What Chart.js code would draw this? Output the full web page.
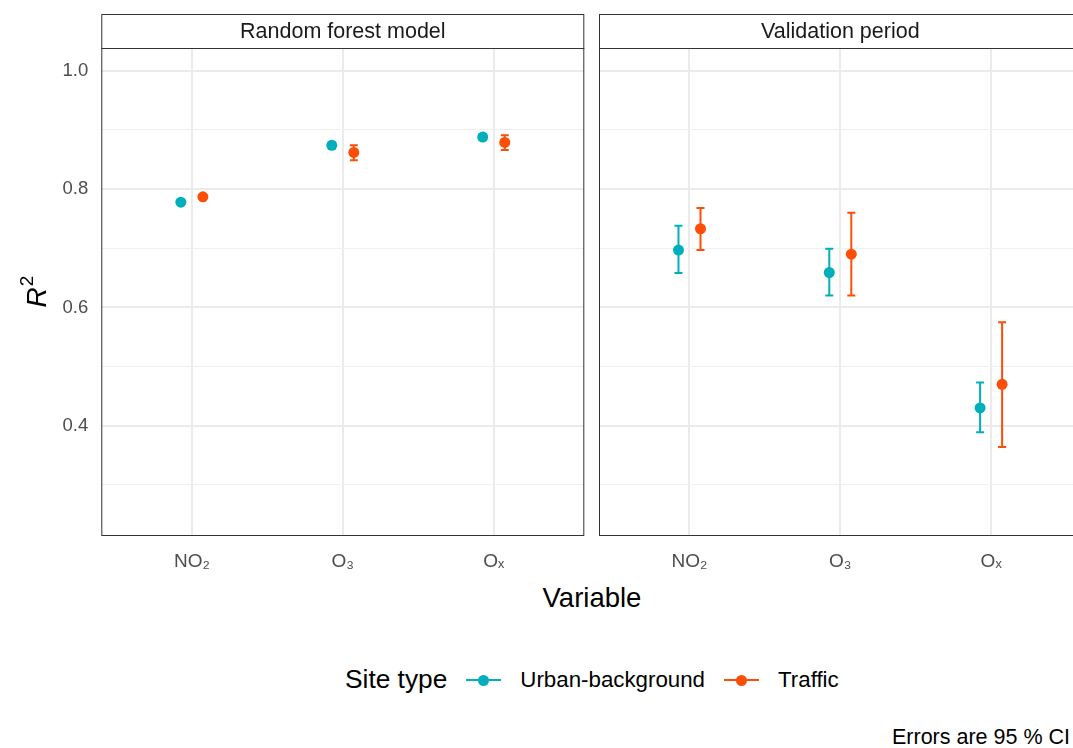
<!DOCTYPE html>
<html>
<head>
<meta charset="utf-8">
<script src="https://cdn.jsdelivr.net/npm/chart.js@4"></script>
<style>
  html, body { margin: 0; padding: 0; width: 1073px; height: 748px; overflow: hidden; background: #fff;
    font-family: "Liberation Sans", Arial, sans-serif; }
  #left { position: absolute; left: 0; top: 0; }
  #right { position: absolute; left: 590px; top: 0; }
  .xtitle { position: absolute; left: 0; width: 1184px; top: 582px; text-align: center; font-size: 27.5px; color: #000; }
  .legend { position: absolute; left: 345px; top: 664px; display: flex; align-items: center; white-space: nowrap; }
  .legend .title { font-size: 26.3px; color: #000; }
  .legend .key { position: relative; width: 35px; height: 20px; margin-left: 19px; }
  .legend .key::before { content: ""; position: absolute; left: 0; right: 0; top: 9px; height: 2px; background: var(--c); }
  .legend .key::after { content: ""; position: absolute; left: 12px; top: 5px; width: 11px; height: 11px; border-radius: 50%; background: var(--c); }
  .legend .lab { font-size: 22.3px; color: #000; margin-left: 19px; }
  .caption { position: absolute; right: 3px; top: 725px; font-size: 21.5px; color: #000; }
</style>
</head>
<body>
<canvas id="left" width="600" height="580"></canvas>
<canvas id="right" width="500" height="580"></canvas>
<div class="xtitle">Variable</div>
<div class="legend" id="legend"></div>
<div class="caption">Errors are 95 % CI</div>
<script>
// categories and groups
const variables = ["NO₂", "O₃", "Oₓ"];
const siteTypes = ["Urban-background", "Traffic"];
const colors = ["#00AFBB", "#FC4E07"];
const panels = ["Random forest model", "Validation period"];

// Random forest model: R² with 95 % CI
const rfUrban   = [0.778, 0.874, 0.888];
const rfUrbanLo = [0.775, 0.869, 0.883];
const rfUrbanHi = [0.781, 0.879, 0.893];
const rfTraffic   = [0.787, 0.862, 0.879];
const rfTrafficLo = [0.784, 0.849, 0.866];
const rfTrafficHi = [0.790, 0.874, 0.891];

// Validation period
const valUrban   = [0.697, 0.659, 0.430];
const valUrbanLo = [0.658, 0.620, 0.389];
const valUrbanHi = [0.738, 0.699, 0.473];
const valTraffic   = [0.733, 0.690, 0.470];
const valTrafficLo = [0.697, 0.620, 0.364];
const valTrafficHi = [0.768, 0.760, 0.575];

const yBreaks = [0.3, 0.4, 0.5, 0.6, 0.7, 0.8, 0.9, 1.0];
const yMajor = [0.4, 0.6, 0.8, 1.0];
const dodge = 0.073;

const isMajor = v => yMajor.some(m => Math.abs(m - v) < 1e-6);

const errorBars = {
  id: "errorBars",
  beforeDatasetsDraw(chart) {
    const { ctx, scales: { x, y } } = chart;
    chart.data.datasets.forEach(ds => {
      ds.data.forEach((p, i) => {
        const px = x.getPixelForValue(p.x);
        const lo = y.getPixelForValue(ds.errLo[i]);
        const hi = y.getPixelForValue(ds.errHi[i]);
        ctx.save();
        ctx.strokeStyle = ds.backgroundColor;
        ctx.lineWidth = 2;
        ctx.beginPath();
        ctx.moveTo(px, lo); ctx.lineTo(px, hi);
        ctx.moveTo(px - 4, lo); ctx.lineTo(px + 4, lo);
        ctx.moveTo(px - 4, hi); ctx.lineTo(px + 4, hi);
        ctx.stroke();
        ctx.restore();
      });
    });
  }
};

// strip on top and border round the panel, plus the y title on the left panel
const facetFrame = {
  id: "facetFrame",
  afterDraw(chart, args, opts) {
    const { ctx, chartArea: a } = chart;
    ctx.save();
    ctx.strokeStyle = "#333333";
    ctx.lineWidth = 1;
    ctx.strokeRect(a.left + 0.5, 14.5, a.right - a.left - 1, a.top - 14);
    ctx.strokeRect(a.left + 0.5, a.top + 0.5, a.right - a.left - 1, a.bottom - a.top - 1);
    ctx.fillStyle = "#1A1A1A";
    ctx.font = "21.5px 'Liberation Sans', Arial, sans-serif";
    ctx.textAlign = "center";
    ctx.textBaseline = "middle";
    ctx.fillText(opts.title, (a.left + a.right) / 2, 32);
    if (opts.yTitle) {
      ctx.translate(36, (a.top + a.bottom) / 2);
      ctx.rotate(-Math.PI / 2);
      ctx.fillStyle = "#000";
      ctx.font = "italic 28px 'Liberation Sans', Arial, sans-serif";
      const wR = ctx.measureText("R").width;
      ctx.font = "19px 'Liberation Sans', Arial, sans-serif";
      const w2 = ctx.measureText("2").width;
      const x0 = -(wR + w2) / 2;
      ctx.textAlign = "left";
      ctx.textBaseline = "alphabetic";
      ctx.font = "italic 28px 'Liberation Sans', Arial, sans-serif";
      ctx.fillText("R", x0, 10);
      ctx.font = "19px 'Liberation Sans', Arial, sans-serif";
      ctx.fillText("2", x0 + wR + 1, -3);
    }
    ctx.restore();
  }
};

function makeDatasets(urban, uLo, uHi, traffic, tLo, tHi) {
  return [
    { label: siteTypes[0], data: urban.map((v, i) => ({ x: i + 1 - dodge, y: v })), errLo: uLo, errHi: uHi,
      backgroundColor: colors[0], pointRadius: 5.5, pointHoverRadius: 5.5, borderWidth: 0 },
    { label: siteTypes[1], data: traffic.map((v, i) => ({ x: i + 1 + dodge, y: v })), errLo: tLo, errHi: tHi,
      backgroundColor: colors[1], pointRadius: 5.5, pointHoverRadius: 5.5, borderWidth: 0 }
  ];
}

function makePanel(id, datasets, title, isLeft) {
  return new Chart(document.getElementById(id), {
    type: "scatter",
    data: { datasets },
    options: {
      responsive: false,
      animation: false,
      events: [],
      layout: { padding: isLeft ? { top: 48, right: 15.7, left: 0, bottom: 0 } : { top: 48, right: 8.4, left: 0, bottom: 0 } },
      plugins: {
        legend: { display: false },
        tooltip: { enabled: false },
        facetFrame: { title, yTitle: isLeft }
      },
      scales: {
        x: {
          type: "linear", min: 0.4, max: 3.6,
          afterBuildTicks: s => { s.ticks = variables.map((_, i) => ({ value: i + 1 })); },
          afterFit: s => { s.height = 44; },
          border: { display: false },
          grid: { color: "#EBEBEB", lineWidth: 2, drawTicks: false },
          ticks: { autoSkip: false, maxRotation: 0, padding: 14, color: "#4D4D4D",
            font: { size: 19, family: "'Liberation Sans', Arial, sans-serif" },
            callback: v => variables[v - 1] }
        },
        y: {
          min: 0.2135, max: 1.0386,
          afterBuildTicks: s => { s.ticks = yBreaks.map(v => ({ value: v })); },
          afterFit: s => { s.width = isLeft ? 101.3 : 9; },
          border: { display: false },
          grid: { drawTicks: false,
            color: c => isMajor(c.tick.value) ? "#EBEBEB" : "#EFEFEF",
            lineWidth: c => isMajor(c.tick.value) ? 2 : 1 },
          ticks: { display: isLeft, autoSkip: false, padding: 13, color: "#4D4D4D",
            font: { size: 18.5, family: "'Liberation Sans', Arial, sans-serif" },
            callback: v => isMajor(v) ? v.toFixed(1) : "" }
        }
      }
    },
    plugins: [errorBars, facetFrame]
  });
}

makePanel("left", makeDatasets(rfUrban, rfUrbanLo, rfUrbanHi, rfTraffic, rfTrafficLo, rfTrafficHi), panels[0], true);
makePanel("right", makeDatasets(valUrban, valUrbanLo, valUrbanHi, valTraffic, valTrafficLo, valTrafficHi), panels[1], false);

// legend
const legend = document.getElementById("legend");
legend.innerHTML = '<span class="title">Site type</span>' +
  siteTypes.map((s, i) => `<span class="key" style="--c:${colors[i]}"></span><span class="lab">${s}</span>`).join("");
</script>
</body>
</html>
